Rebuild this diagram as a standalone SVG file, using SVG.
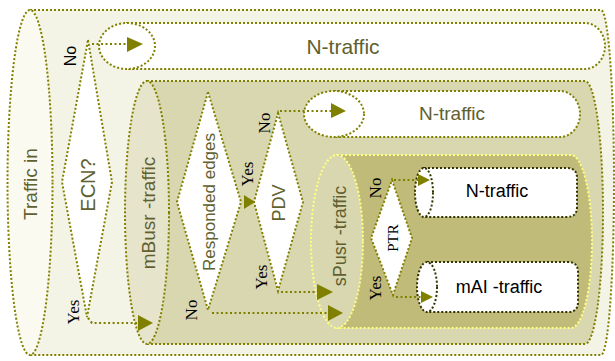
<svg xmlns="http://www.w3.org/2000/svg" width="615" height="361" viewBox="0 0 615 361">
<style>
.d{stroke:#808000;stroke-width:2;stroke-dasharray:2 2;}
.y{stroke:#ffff80;stroke-width:2;stroke-dasharray:2 2;}
.k{stroke:#333300;stroke-width:2;stroke-dasharray:2 2;}
.w{fill:#ffffff;}
.ah{fill:#808000;stroke:none;}
.c{fill:none;stroke:#808000;stroke-width:2.2;stroke-dasharray:2 2.5;}
.t{font-family:"Liberation Sans",Arial,sans-serif;fill:#606030;text-anchor:middle;dominant-baseline:central;}
.tb{font-family:"Liberation Sans",Arial,sans-serif;fill:#000;text-anchor:middle;dominant-baseline:central;}
.s{font-family:"Liberation Serif","Times New Roman",serif;fill:#000;text-anchor:middle;dominant-baseline:central;font-size:17px;}
</style>
<g id="traffic-in">
<path class="d" fill="#f4f4e6" d="M30,10 H601 A13,172.5 0 0 1 601,355 H30 Z"/>
<ellipse class="d" fill="#fafaf1" cx="30" cy="182.5" rx="22.5" ry="172.5"/>
<text class="t" font-size="19" transform="translate(30,184) rotate(-90)">Traffic in</text>
</g>
<g id="n-traffic-1">
<path class="d w" d="M127,23 H585 A20,23 0 0 1 585,69 H127 Z"/>
<ellipse class="d w" cx="127" cy="46" rx="28" ry="23"/>
<text class="t" font-size="21" x="343" y="46">N-traffic</text>
</g>
<g id="ecn">
<path class="d w" d="M88,40 L112,182 L87,317 L62,182 Z"/>
<text class="t" font-size="20" transform="translate(88,185) rotate(-90)">ECN?</text>
</g>
<g id="mbusr">
<path class="d" fill="#d9d7b0" d="M147,81 H585 A18,131.5 0 0 1 585,344 H147 Z"/>
<ellipse class="d" fill="#e6e5cc" cx="147" cy="212.5" rx="22" ry="131.5"/>
<text class="t" font-size="19" transform="translate(148,213) rotate(-90)">mBusr -traffic</text>
</g>
<g id="responded">
<path class="d w" d="M208,92 L241,202 L208,310 L177,202 Z"/>
<text class="t" font-size="17" transform="translate(209,202) rotate(-90)">Responded edges</text>
</g>
<g id="n-traffic-2">
<path class="d w" d="M334,91 H560 A20,23 0 0 1 560,137 H334 Z"/>
<ellipse class="d w" cx="334" cy="114" rx="30" ry="23"/>
<text class="t" font-size="19" x="452" y="113">N-traffic</text>
</g>
<g id="pdv">
<path class="d w" d="M278,113 L303,202 L278,291 L254,202 Z"/>
<text class="t" font-size="18" transform="translate(279,203) rotate(-90)">PDV</text>
</g>
<g id="spusr">
<path class="y" fill="#c0bb78" d="M337,155 H571 A21,86.5 0 0 1 571,328 H337 Z"/>
<ellipse class="y" fill="#d9d7b0" cx="337" cy="241.5" rx="26" ry="86.5"/>
<text class="t" font-size="18" transform="translate(340,236) rotate(-90)">sPusr -traffic</text>
</g>
<g id="ptr">
<path class="d w" d="M392,180 L412,238 L393,295 L371,238 Z"/>
<text class="s" style="font-size:15px" transform="translate(393,238) rotate(-90)">PTR</text>
</g>
<g id="n-traffic-3">
<path class="k w" d="M424,168 H567 Q577,168 577,178 V207 Q577,217 567,217 H424 Z"/>
<ellipse class="k w" cx="424" cy="192.5" rx="9" ry="24.5"/>
<text class="tb" font-size="18" x="497" y="191">N-traffic</text>
</g>
<g id="mai-traffic">
<path class="k w" d="M427,262 H568 Q578,262 578,272 V302 Q578,312 568,312 H427 Z"/>
<ellipse class="k w" cx="427" cy="287" rx="10" ry="25"/>
<text class="tb" font-size="18" x="499" y="287">mAI -traffic</text>
</g>
<g id="connectors">
<path class="c" d="M92,44 H127"/>
<polygon class="ah" points="127,37 143,44 127,52"/>
<path class="c" d="M88,318 L92,323 H138"/>
<polygon class="ah" points="138,315 153,323 138,331"/>
<polygon class="ah" points="244,195 255,202 244,209"/>
<path class="c" d="M280,111 H331"/>
<polygon class="ah" points="331,103 346,111 331,118"/>
<path class="c" d="M212,313 H328"/>
<polygon class="ah" points="328,305 343,313 328,321"/>
<path class="c" d="M281,292 H317"/>
<polygon class="ah" points="317,284 333,292 317,300"/>
<path class="c" d="M394,180 H418"/>
<polygon class="ah" points="418,174 430,180 418,186"/>
<path class="c" d="M396,297 H421"/>
<polygon class="ah" points="421,291 433,297 421,303"/>
</g>
<g id="labels">
<text class="tb" font-size="16" transform="translate(70,56) rotate(-90)">No</text>
<text class="s" transform="translate(73,312) rotate(-90)">Yes</text>
<text class="s" transform="translate(247,174) rotate(-90)">Yes</text>
<text class="s" transform="translate(264,123) rotate(-90)">No</text>
<text class="s" transform="translate(191,310) rotate(-90)">No</text>
<text class="s" transform="translate(261,277) rotate(-90)">Yes</text>
<text class="s" transform="translate(375,188) rotate(-90)">No</text>
<text class="s" transform="translate(375,288) rotate(-90)">Yes</text>
</g>
</svg>
